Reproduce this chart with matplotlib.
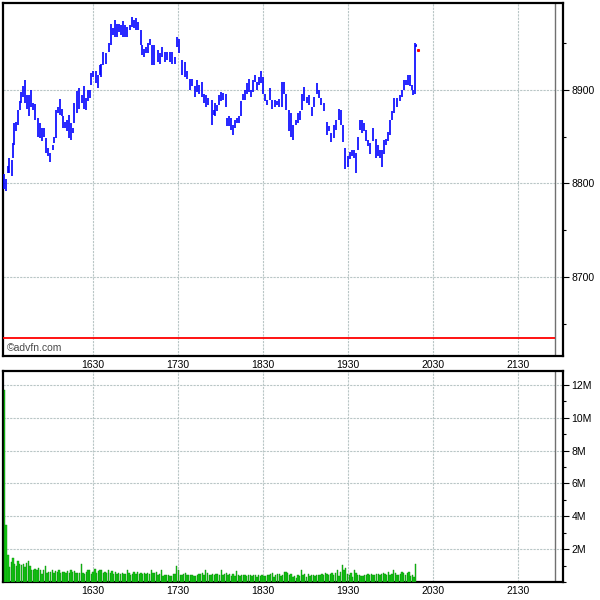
import matplotlib

matplotlib.use("Agg")
import matplotlib.pyplot as plt
import numpy as np
from matplotlib.ticker import FuncFormatter, MultipleLocator

# bar times in minutes after 15:00, with high / low price of each bar
bar_minutes = [
    27.2, 28.6, 30.0, 30.7, 32.8, 33.5, 34.2, 35.6, 37.1, 38.5, 39.2, 40.6, 42.0, 43.4, 44.8,
    46.2, 47.6, 49.1, 51.2, 52.6, 54.0, 55.4, 56.8, 58.2, 59.6, 61.8, 62.5, 63.9, 65.3, 66.7,
    68.1, 68.8, 70.2, 71.6, 73.1, 74.5, 75.9, 76.6, 78.7, 80.1, 82.2, 83.6, 85.1, 86.5, 87.9,
    88.6, 90.0, 92.1, 93.5, 94.9, 95.6, 97.1, 99.2, 101.3, 102.7, 104.1, 105.5, 106.9, 108.4,
    109.8, 111.2, 112.6, 114.0, 116.1, 117.5, 118.9, 120.4, 121.8, 123.9, 124.6, 126.0, 127.4,
    128.8, 130.2, 131.6, 133.1, 135.9, 137.3, 138.7, 140.8, 142.2, 144.4, 145.8, 147.9, 149.3,
    150.7, 152.8, 154.9, 156.4, 158.5, 159.9, 162.0, 163.4, 164.8, 166.9, 168.4, 169.8, 171.2,
    174.0, 175.4, 176.1, 177.5, 178.9, 180.4, 181.8, 183.9, 184.6, 186.0, 187.4, 188.8, 190.2,
    191.6, 193.1, 194.5, 195.9, 197.3, 198.7, 200.1, 201.5, 202.9, 204.4, 205.8, 207.2, 208.6,
    210.0, 211.4, 212.8, 214.9, 216.4, 218.5, 219.9, 221.3, 223.4, 224.8, 226.2, 228.4, 229.8,
    231.2, 233.3, 234.7, 236.1, 237.5, 238.9, 241.1, 242.5, 244.6, 246.0, 248.1, 249.5, 250.9,
    253.1, 255.2, 256.6, 258.0, 260.1, 261.5, 263.6, 265.1, 266.5, 267.9, 270.0, 271.4, 272.8,
    274.2, 275.6, 277.1, 278.5, 279.9, 281.3, 282.7, 284.1, 285.5, 287.6, 289.8, 291.2, 292.6,
    294.0, 295.4, 296.8, 298.2, 299.6, 301.1, 302.5, 304.6, 306.7, 308.1, 309.5, 310.9, 312.4,
    313.8, 315.2, 315.9, 317.3, 318.0,
]
bar_high = [
    8810, 8805, 8819, 8827, 8825, 8843, 8865, 8866, 8879, 8888, 8898, 8904, 8911, 8895, 8895,
    8900, 8886, 8885, 8870, 8865, 8859, 8859, 8849, 8838, 8833, 8841, 8850, 8879, 8882, 8890,
    8880, 8872, 8866, 8868, 8873, 8865, 8859, 8886, 8899, 8902, 8895, 8904, 8891, 8900, 8900,
    8918, 8920, 8920, 8916, 8927, 8928, 8941, 8939, 8950, 8971, 8966, 8975, 8971, 8971,
    8969, 8974, 8969, 8967, 8969, 8978, 8975, 8977, 8973, 8964, 8948, 8944, 8946,
    8950, 8954, 8948, 8948, 8943, 8939, 8946, 8941, 8941, 8941, 8941, 8935, 8957,
    8954, 8932, 8930, 8920, 8912, 8912, 8904, 8911, 8905, 8909, 8896, 8895, 8891,
    8889, 8879, 8886, 8884, 8895, 8898, 8897, 8896, 8870, 8872, 8870, 8863, 8868,
    8870, 8872, 8888, 8896, 8900, 8907, 8912, 8900, 8911, 8916, 8909, 8914, 8920,
    8914, 8896, 8889, 8902, 8889, 8889, 8888, 8890, 8909, 8909, 8896, 8879, 8875,
    8863, 8868, 8875, 8877, 8896, 8903, 8892, 8895, 8882, 8892, 8907, 8900, 8891,
    8886, 8866, 8861, 8854, 8863, 8868, 8880, 8879, 8863, 8838, 8829, 8834, 8836,
    8836, 8833, 8850, 8868, 8868, 8865, 8857, 8846, 8843, 8859, 8848, 8841, 8836,
    8836, 8846, 8848, 8855, 8868, 8877, 8891, 8891, 8895, 8900, 8911, 8911, 8916,
    8916, 8905, 8900, 8950, 8948,
]
bar_low = [
    8794, 8792, 8811, 8811, 8808, 8827, 8841, 8856, 8863, 8879, 8886, 8893, 8886, 8880, 8872,
    8882, 8879, 8868, 8850, 8849, 8845, 8850, 8833, 8829, 8823, 8836, 8843, 8849, 8875, 8873,
    8872, 8859, 8859, 8856, 8849, 8847, 8854, 8865, 8875, 8880, 8886, 8880, 8879, 8888, 8891,
    8905, 8914, 8907, 8902, 8916, 8914, 8927, 8928, 8941, 8948, 8959, 8957, 8957, 8962,
    8959, 8957, 8957, 8957, 8964, 8967, 8966, 8964, 8964, 8948, 8937, 8935, 8939,
    8939, 8948, 8927, 8927, 8930, 8928, 8935, 8930, 8932, 8930, 8928, 8928, 8946,
    8939, 8916, 8914, 8912, 8900, 8904, 8893, 8898, 8896, 8893, 8886, 8882, 8884,
    8863, 8873, 8872, 8877, 8884, 8888, 8889, 8882, 8861, 8861, 8857, 8852, 8859,
    8865, 8865, 8872, 8889, 8889, 8896, 8898, 8893, 8898, 8909, 8900, 8905, 8907,
    8896, 8888, 8884, 8889, 8880, 8882, 8884, 8882, 8882, 8896, 8879, 8856, 8850,
    8847, 8863, 8865, 8868, 8879, 8888, 8886, 8884, 8872, 8882, 8896, 8891, 8884,
    8877, 8852, 8856, 8844, 8849, 8857, 8868, 8863, 8844, 8815, 8818, 8826, 8829,
    8827, 8811, 8836, 8857, 8854, 8856, 8845, 8840, 8831, 8845, 8827, 8829, 8827,
    8818, 8831, 8841, 8845, 8852, 8868, 8875, 8882, 8888, 8893, 8900, 8905, 8905,
    8904, 8900, 8895, 8896, 8946,
]

# volume per bar, millions of shares
volume_m = [
    11.7, 3.45, 1.65, 0.91, 1.21, 1.47, 1.11, 0.95, 1.27, 1.11, 1.05, 1.07, 0.91, 1.15, 1.25,
    0.95, 0.71, 0.75, 0.81, 0.71, 0.85, 0.75, 0.51, 0.75, 0.95, 0.55, 0.61, 0.63, 0.71, 0.57,
    0.67, 0.59, 0.71, 0.57, 0.61, 0.61, 0.57, 0.67, 0.57, 0.71, 0.61, 0.67, 0.55, 0.55, 0.55,
    1.11, 0.55, 0.51, 0.61, 0.71, 0.71, 0.51, 0.61, 0.81, 0.55, 0.67, 0.71, 0.75, 0.55, 0.61,
    0.55, 0.71, 0.55, 0.65, 0.51, 0.61, 0.51, 0.57, 0.46, 0.57, 0.51, 0.51, 0.71, 0.55, 0.40,
    0.51, 0.61, 0.51, 0.61, 0.51, 0.55, 0.51, 0.57, 0.46, 0.55, 0.51, 0.71, 0.57, 0.55, 0.61,
    0.44, 0.51, 0.71, 0.36, 0.44, 0.40, 0.44, 0.34, 0.36, 0.51, 0.46, 0.95, 0.71, 0.44, 0.44,
    0.51, 0.55, 0.42, 0.40, 0.44, 0.44, 0.36, 0.38, 0.40, 0.46, 0.51, 0.55, 0.44, 0.71, 0.55,
    0.44, 0.40, 0.51, 0.40, 0.46, 0.51, 0.40, 0.71, 0.44, 0.51, 0.55, 0.40, 0.51, 0.34, 0.51,
    0.36, 0.65, 0.40, 0.36, 0.44, 0.40, 0.44, 0.36, 0.40, 0.44, 0.36, 0.40, 0.40, 0.30, 0.40,
    0.36, 0.44, 0.36, 0.34, 0.40, 0.40, 0.51, 0.55, 0.30, 0.40, 0.46, 0.51, 0.36, 0.44, 0.61,
    0.61, 0.55, 0.44, 0.51, 0.30, 0.36, 0.24, 0.40, 0.34, 0.71, 0.44, 0.46, 0.30, 0.51, 0.34,
    0.40, 0.44, 0.36, 0.40, 0.44, 0.40, 0.51, 0.40, 0.55, 0.51, 0.40, 0.51, 0.55, 0.40, 0.55,
    0.71, 0.36, 0.61, 1.01, 0.75, 0.87, 0.51, 0.40, 0.55, 0.30, 0.75, 0.55, 0.40, 0.44, 0.36,
    0.36, 0.40, 0.44, 0.51, 0.40, 0.51, 0.44, 0.40, 0.51, 0.51, 0.40, 0.46, 0.55, 0.51, 0.40,
    0.61, 0.44, 0.51, 0.71, 0.55, 0.44, 0.40, 0.51, 0.61, 0.55, 0.40, 0.55, 0.61, 0.34, 0.40,
    0.30, 1.07,
]

x_ticks = [90, 150, 210, 270, 330, 390]
x_tick_labels = ["1630", "1730", "1830", "1930", "2030", "2130"]
price_ticks = [8700, 8800, 8900]
volume_ticks_m = [2, 4, 6, 8, 10, 12]
ref_price = 8635
last_price = 8943
session_end = 416
x_range = (26.5, 422.0)
price_range = (8615.5, 8993)
volume_range_m = (0, 12.85)

GRID = dict(color="#b9c6c6", linestyle=(0, (2, 1)), linewidth=0.8)
FONT = "Liberation Sans"
FS = 7.5

fig = plt.figure(figsize=(6, 6), dpi=100)
ax_p = fig.add_axes([3 / 600, 244 / 600, 560 / 600, 353 / 600])
ax_v = fig.add_axes([3 / 600, 18 / 600, 560 / 600, 211 / 600])

for ax in (ax_p, ax_v):
    ax.set_xlim(*x_range)
    ax.set_xticks(x_ticks)
    ax.set_xticklabels(x_tick_labels, fontsize=FS, family=FONT)
    ax.tick_params(axis="x", length=0, pad=3)
    ax.yaxis.tick_right()
    ax.tick_params(axis="y", which="major", length=4, width=0.8, pad=2)
    ax.tick_params(axis="y", which="minor", length=2, width=0.8)
    ax.grid(True, **GRID)
    ax.set_axisbelow(True)
    ax.axvline(session_end, color="#707070", linewidth=1.0, zorder=1)
    for spine in ax.spines.values():
        spine.set_linewidth(1.6)
        spine.set_color("black")

# price panel
ax_p.vlines(bar_minutes, bar_low, bar_high, color="#0000ff", linewidth=1.2, zorder=3)
ax_p.hlines(bar_high[-1], bar_minutes[-1], bar_minutes[-1] + 1.2, color="#0000ff", linewidth=1.1, zorder=3)
ax_p.plot([bar_minutes[-1] + 1.8], [last_price], marker="s", markersize=1.2, color="red", zorder=4)
ax_p.hlines(ref_price, x_range[0], session_end, color="#ff0000", linewidth=1.3, zorder=3)
ax_p.set_ylim(*price_range)
ax_p.set_yticks(price_ticks)
ax_p.yaxis.set_minor_locator(MultipleLocator(50))
ax_p.set_yticklabels([str(v) for v in price_ticks], family=FONT, fontsize=FS)
ax_p.text(0.007, 0.008, "©advfn.com", transform=ax_p.transAxes, fontsize=FS,
          family=FONT, color="#4a4a4a", va="bottom", ha="left")

# volume panel
vol_minutes = np.linspace(bar_minutes[0] + 0.3, bar_minutes[-1], len(volume_m))
ax_v.bar(vol_minutes, volume_m, width=0.95, color="#14cc14", edgecolor="#0a8a0a",
         linewidth=0.3, zorder=3)
ax_v.set_ylim(*volume_range_m)
ax_v.set_yticks(volume_ticks_m)
ax_v.yaxis.set_minor_locator(MultipleLocator(1))
ax_v.yaxis.set_major_formatter(FuncFormatter(lambda v, _: f"{v:.0f}M"))
for lbl in ax_v.get_yticklabels():
    lbl.set_family(FONT)
    lbl.set_fontsize(FS)

fig.savefig("out.png", dpi=100)
